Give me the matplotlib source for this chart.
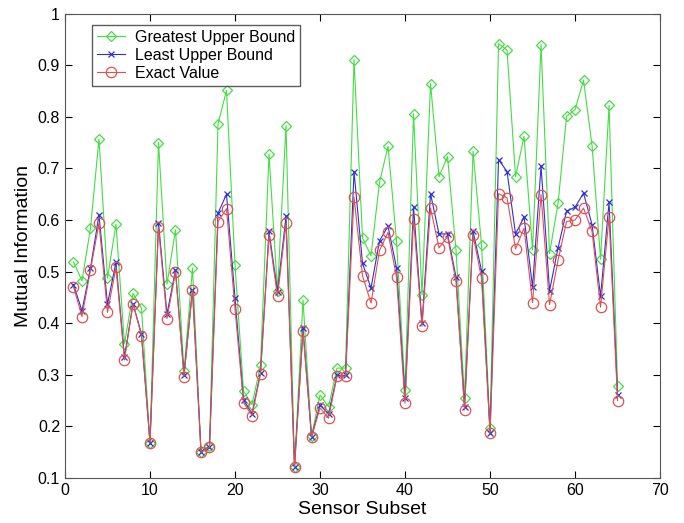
import numpy as np
import matplotlib as mpl
mpl.use('Agg')
import matplotlib.pyplot as plt

plt.rcParams['font.family'] = ['Liberation Sans', 'DejaVu Sans']

subset = np.arange(1, 66)

greatest = [0.519, 0.482, 0.584, 0.757, 0.487, 0.592, 0.36, 0.458, 0.429, 0.168,
            0.75, 0.476, 0.581, 0.307, 0.507, 0.151, 0.162, 0.786, 0.851, 0.513,
            0.269, 0.242, 0.319, 0.728, 0.462, 0.783, 0.122, 0.445, 0.181, 0.261,
            0.238, 0.313, 0.313, 0.911, 0.565, 0.531, 0.673, 0.743, 0.56, 0.271,
            0.806, 0.455, 0.864, 0.684, 0.723, 0.541, 0.255, 0.733, 0.552, 0.196,
            0.942, 0.929, 0.684, 0.762, 0.542, 0.94, 0.535, 0.632, 0.801, 0.814,
            0.871, 0.744, 0.524, 0.822, 0.279]

least = [0.475, 0.424, 0.507, 0.61, 0.437, 0.518, 0.334, 0.438, 0.379, 0.168,
         0.595, 0.418, 0.503, 0.3, 0.465, 0.151, 0.161, 0.613, 0.65, 0.449,
         0.251, 0.225, 0.304, 0.578, 0.461, 0.607, 0.122, 0.39, 0.18, 0.242,
         0.224, 0.299, 0.299, 0.694, 0.516, 0.468, 0.56, 0.588, 0.507, 0.255,
         0.626, 0.4, 0.651, 0.573, 0.573, 0.489, 0.238, 0.578, 0.502, 0.188,
         0.717, 0.694, 0.573, 0.606, 0.47, 0.705, 0.463, 0.546, 0.617, 0.625,
         0.652, 0.591, 0.452, 0.634, 0.261]

exact = [0.471, 0.413, 0.503, 0.594, 0.421, 0.508, 0.329, 0.438, 0.376, 0.168,
         0.586, 0.409, 0.499, 0.296, 0.465, 0.15, 0.16, 0.597, 0.622, 0.428,
         0.246, 0.221, 0.302, 0.571, 0.452, 0.594, 0.121, 0.384, 0.179, 0.236,
         0.216, 0.297, 0.297, 0.644, 0.492, 0.439, 0.541, 0.576, 0.489, 0.245,
         0.602, 0.394, 0.623, 0.546, 0.568, 0.481, 0.232, 0.571, 0.487, 0.187,
         0.651, 0.643, 0.544, 0.584, 0.44, 0.649, 0.436, 0.522, 0.597, 0.6,
         0.623, 0.578, 0.431, 0.606, 0.25]

fig = plt.figure(figsize=(6.84, 5.23), dpi=100)
ax = fig.add_axes([0.095, 0.086, 0.870, 0.888])

ax.plot(subset, greatest, color='#44dd44', lw=0.8, marker='D', ms=5.5,
        mfc='none', mec='#44dd44', mew=0.9, label='Greatest Upper Bound')
ax.plot(subset, least, color='#3030d0', lw=0.8, marker='x', ms=5,
        mew=0.9, label='Least Upper Bound')
ax.plot(subset, exact, color='#e05050', lw=0.8, marker='o', ms=7.5,
        mfc='none', mec='#e05050', mew=0.9, label='Exact Value')

ax.set_xlim(0, 70)
ax.set_ylim(0.1, 1)
ax.set_xticks(range(0, 71, 10))
ax.set_yticks(np.arange(0.1, 1.01, 0.1))
ax.set_yticklabels(['0.1', '0.2', '0.3', '0.4', '0.5', '0.6', '0.7', '0.8', '0.9', '1'])
ax.tick_params(direction='in', top=True, right=True, labelsize=11.5, length=5)
for s in ax.spines.values():
    s.set_color('#555555')

ax.set_xlabel('Sensor Subset', fontsize=14, labelpad=2)
ax.set_ylabel('Mutual Information', fontsize=14, labelpad=4)

leg = ax.legend(loc='upper left', bbox_to_anchor=(0.045, 0.976), borderaxespad=0,
                fontsize=11.5, fancybox=False, edgecolor='#333333',
                handlelength=1.8, handletextpad=0.6, borderpad=0.3,
                labelspacing=0.2)
leg.get_frame().set_linewidth(1.0)

plt.savefig('out.png', dpi=100)
